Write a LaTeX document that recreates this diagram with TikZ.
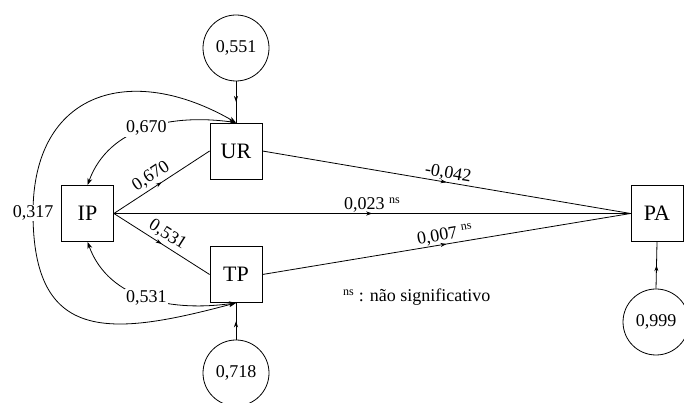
\documentclass[tikz,border=0pt]{standalone}
\usepackage{fontspec}
\setmainfont{Liberation Serif}
\usetikzlibrary{arrows.meta,decorations.markings}
\newcommand{\nsmark}{\textsuperscript{\fontsize{12}{12}\selectfont ns}}

\begin{document}
\begin{tikzpicture}[x=1pt, y=1pt,
  var/.style={draw, line width=0.8pt, minimum width=52pt, minimum height=56pt, inner sep=0pt, font=\fontsize{22}{24}\selectfont},
  err/.style={draw, circle, line width=0.8pt, minimum size=66pt, inner sep=0pt, font=\fontsize{18}{20}\selectfont},
  arrowline/.style={line width=0.8pt, postaction={decorate},
    decoration={markings, mark=at position 0.5 with {\arrow{Stealth[length=6pt,width=4pt]}}}},
  covline/.style={line width=0.8pt, {Stealth[length=7pt,width=5pt]}-{Stealth[length=7pt,width=5pt]}},
  lbl/.style={font=\fontsize{18}{20}\selectfont, inner sep=1pt}]
  \useasboundingbox (0,0) rectangle (684,403);

  % Observed variables
  \node[var] (UR) at (236,252) {UR};
  \node[var] (IP) at (87.5,189.5) {IP};
  \node[var] (TP) at (236,128.5) {TP};
  \node[var] (PA) at (657,189.5) {PA};

  % Residuals
  \node[err] (e551) at (236,355) {0,551};
  \node[err] (e718) at (236,30) {0,718};
  \node[err] (e999) at (656,81) {0,999};

  % Residual paths
  \draw[arrowline] (e551.south) -- (UR.north);
  \draw[arrowline] (e718.north) -- (TP.south);
  \draw[arrowline] (e999.north) -- (PA.south);

  % Direct effects
  \draw[arrowline] (IP.east) -- (UR.west) node[lbl, pos=0.45, sloped, above=2pt] {0,670};
  \draw[arrowline] (IP.east) -- (TP.west) node[lbl, pos=0.5, sloped, above=2pt] {0,531};
  \draw[arrowline] (UR.east) -- (PA.west) node[lbl, midway, sloped, above] {-0,042};
  \draw[arrowline] (IP.east) -- (PA.west) node[lbl, midway, above] {0,023 \nsmark};
  \draw[arrowline] (TP.east) -- (PA.west) node[lbl, midway, sloped, above] {0,007 \nsmark};

  % Covariances
  \coordinate (bend317) at (33,190);
  \draw[covline] (UR.north) to[out=172, in=70] node[lbl, pos=0.5, fill=white] {0,670} (IP.north);
  \draw[covline] (IP.south) to[out=-70, in=188] node[lbl, pos=0.5, fill=white] {0,531} (TP.south);
  \draw[covline] (UR.north) to[out=150, in=90, looseness=1.4] (bend317) node[lbl, fill=white] {0,317}
    to[out=-90, in=195, looseness=1.5] (TP.south);

  % Note
  \node[lbl, anchor=west] (note) at (342,106) {\nsmark\ : não significativo};
\end{tikzpicture}
\end{document}
